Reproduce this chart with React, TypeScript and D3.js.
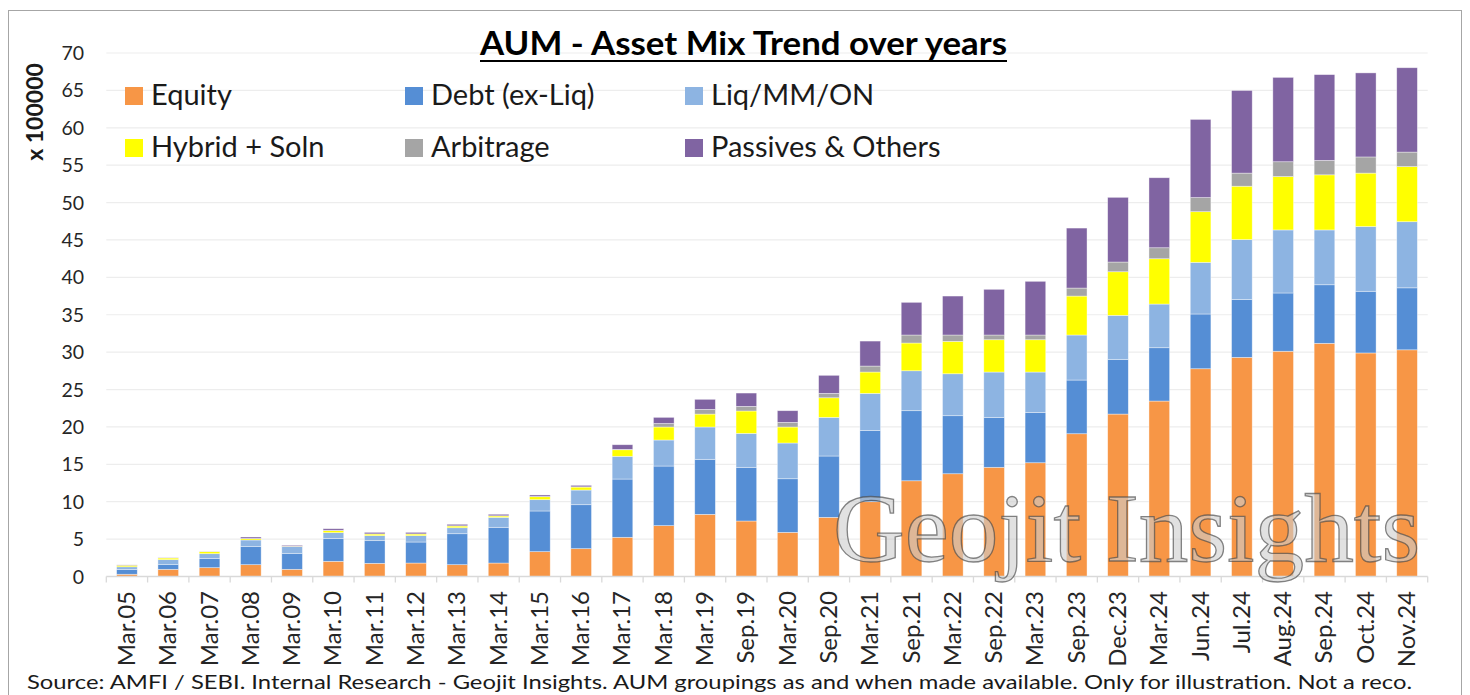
import React, { useEffect, useRef } from "react";
import * as d3 from "d3";

const categories = [
  "Mar.05", "Mar.06", "Mar.07", "Mar.08", "Mar.09", "Mar.10", "Mar.11", "Mar.12",
  "Mar.13", "Mar.14", "Mar.15", "Mar.16", "Mar.17", "Mar.18", "Mar.19", "Sep.19",
  "Mar.20", "Sep.20", "Mar.21", "Sep.21", "Mar.22", "Sep.22", "Mar.23", "Sep.23",
  "Dec.23", "Mar.24", "Jun.24", "Jul.24", "Aug.24", "Sep.24", "Oct.24", "Nov.24",
];

const equity = [
  0.3, 0.96, 1.18, 1.58, 0.96, 2.03, 1.76, 1.8, 1.58, 1.8, 3.32, 3.72, 5.24, 6.8, 8.31, 7.42,
  5.9, 7.91, 10.0, 12.8, 13.74, 14.6, 15.21, 19.09, 21.72, 23.46, 27.78, 29.3, 30.12, 31.18, 29.89, 30.31,
];
const debt = [
  0.65, 0.67, 1.25, 2.41, 2.14, 3.03, 3.03, 2.81, 4.14, 4.78, 5.44, 5.88, 7.79, 7.97, 7.36, 7.18,
  7.17, 8.2, 9.54, 9.37, 7.76, 6.68, 6.74, 7.18, 7.32, 7.13, 7.32, 7.73, 7.79, 7.83, 8.25, 8.29,
];
const liquid = [
  0.35, 0.62, 0.62, 0.89, 0.89, 0.8, 0.67, 0.85, 0.8, 1.33, 1.51, 1.96, 3.04, 3.48, 4.32, 4.54,
  4.78, 5.17, 4.95, 5.34, 5.61, 6.06, 5.39, 6.02, 5.88, 5.84, 6.91, 8.02, 8.43, 7.33, 8.66, 8.84,
];
const hybrid = [
  0.2, 0.22, 0.27, 0.18, 0.05, 0.27, 0.22, 0.22, 0.23, 0.18, 0.4, 0.4, 0.88, 1.74, 1.73, 2.99,
  2.14, 2.62, 2.85, 3.71, 4.33, 4.32, 4.32, 5.21, 5.83, 6.06, 6.77, 7.14, 7.14, 7.37, 7.14, 7.37,
];
const arbitrage = [
  0, 0, 0, 0.02, 0, 0.05, 0.02, 0.02, 0.03, 0.03, 0.03, 0.03, 0.05, 0.47, 0.63, 0.62,
  0.62, 0.59, 0.8, 1.07, 0.85, 0.63, 0.63, 1.07, 1.3, 1.47, 1.89, 1.75, 1.98, 1.93, 2.16, 1.94,
];
const passives = [
  0.05, 0.03, 0.03, 0.2, 0.13, 0.21, 0.2, 0.2, 0.2, 0.2, 0.2, 0.2, 0.62, 0.82, 1.34, 1.78,
  1.56, 2.41, 3.34, 4.37, 5.21, 6.11, 7.18, 8.02, 8.65, 9.36, 10.45, 11.05, 11.28, 11.47, 11.24, 11.28,
];

const seriesNames = ["Equity", "Debt (ex-Liq)", "Liq/MM/ON", "Hybrid + Soln", "Arbitrage", "Passives & Others"];
const seriesColors = ["#F79646", "#558ED5", "#8DB4E2", "#FFFF00", "#A5A5A5", "#8064A2"];
const yTicks = [0, 5, 10, 15, 20, 25, 30, 35, 40, 45, 50, 55, 60, 65, 70];

const titleText = "AUM - Asset Mix Trend over years";
const yAxisTitle = "x 100000";
const sourceText =
  "Source: AMFI / SEBI. Internal Research - Geojit Insights. AUM groupings as and when made available. Only for illustration. Not a reco.";
const watermarkText = "Geojit Insights";

const FONT = "Lato, 'Open Sans', sans-serif";

export default function App() {
  const ref = useRef<SVGSVGElement>(null);

  useEffect(() => {
    const svg = d3.select(ref.current);
    svg.selectAll("*").remove();

    const W = 1470;
    const H = 695;

    svg.append("rect").attr("x", 0).attr("y", 0).attr("width", W).attr("height", H).attr("fill", "#fff");
    svg
      .append("rect")
      .attr("x", 8.5)
      .attr("y", 10.5)
      .attr("width", 1453)
      .attr("height", 700)
      .attr("fill", "none")
      .attr("stroke", "#A6A6A6")
      .attr("stroke-width", 1);

    const x = d3
      .scaleBand<string>()
      .domain(categories)
      .range([106.3, 1427.7])
      .paddingInner(0.5)
      .paddingOuter(0.25);
    const y = d3.scaleLinear().domain([0, 70]).range([576.5, 53]);

    svg
      .append("g")
      .selectAll("line")
      .data(yTicks.filter((t) => t > 0))
      .join("line")
      .attr("x1", 106.3)
      .attr("x2", 1427.7)
      .attr("y1", (d) => y(d))
      .attr("y2", (d) => y(d))
      .attr("stroke", "#EDEDED")
      .attr("stroke-width", 1.2);

    svg
      .append("g")
      .selectAll("text")
      .data(yTicks)
      .join("text")
      .attr("x", 84)
      .attr("y", (d) => y(d))
      .attr("dy", "0.36em")
      .attr("text-anchor", "end")
      .attr("font-family", FONT)
      .attr("font-size", 19.5)
      .attr("fill", "#262626")
      .text((d) => String(d));

    svg
      .append("text")
      .attr("transform", `translate(43,112) rotate(-90)`)
      .attr("text-anchor", "middle")
      .attr("font-family", FONT)
      .attr("font-weight", "bold")
      .attr("font-size", 23)
      .attr("fill", "#1a1a1a")
      .text(yAxisTitle);

    const rows = categories.map((c, i) => ({
      cat: c,
      s0: equity[i],
      s1: debt[i],
      s2: liquid[i],
      s3: hybrid[i],
      s4: arbitrage[i],
      s5: passives[i],
    }));
    const keys = ["s0", "s1", "s2", "s3", "s4", "s5"];
    const stacked = d3.stack<any>().keys(keys)(rows);

    const gBars = svg.append("g");
    stacked.forEach((layer, li) => {
      gBars
        .append("g")
        .attr("fill", seriesColors[li])
        .selectAll("rect")
        .data(layer.filter((d) => d[1] - d[0] > 0))
        .join("rect")
        .attr("x", (d) => x(d.data.cat) as number)
        .attr("width", x.bandwidth())
        .attr("y", (d) => y(d[1]))
        .attr("height", (d) => y(d[0]) - y(d[1]))
        .attr("stroke", "rgba(255,255,255,0.55)")
        .attr("stroke-width", 0.7);
    });

    const gx = svg.append("g");
    gx.append("line")
      .attr("x1", 106.3)
      .attr("x2", 1427.7)
      .attr("y1", y(0))
      .attr("y2", y(0))
      .attr("stroke", "#D9D9D9")
      .attr("stroke-width", 1.3);
    const boundaries = categories.map((c) => (x(c) as number) - (x.step() - x.bandwidth()) / 2);
    boundaries.push(1427.7);
    gx.selectAll("line.tick")
      .data(boundaries)
      .join("line")
      .attr("class", "tick")
      .attr("x1", (d) => d)
      .attr("x2", (d) => d)
      .attr("y1", y(0))
      .attr("y2", y(0) + 6)
      .attr("stroke", "#D9D9D9")
      .attr("stroke-width", 1.3);

    svg
      .append("g")
      .selectAll("text")
      .data(categories)
      .join("text")
      .attr("transform", (d) => `translate(${(x(d) as number) + x.bandwidth() / 2 + 8},591) rotate(-90)`)
      .attr("text-anchor", "end")
      .attr("font-family", FONT)
      .attr("font-size", 24)
      .attr("fill", "#262626")
      .text((d) => d);

    svg
      .append("text")
      .attr("x", 833)
      .attr("y", 561)
      .attr("font-family", "'Liberation Serif', 'DejaVu Serif', serif")
      .attr("font-size", 98)
      .attr("textLength", 587)
      .attr("lengthAdjust", "spacingAndGlyphs")
      .attr("fill", "rgba(205,205,205,0.6)")
      .attr("stroke", "rgba(70,70,70,0.65)")
      .attr("stroke-width", 1.3)
      .text(watermarkText);

    svg
      .append("text")
      .attr("x", 480)
      .attr("y", 55)
      .attr("font-family", FONT)
      .attr("font-weight", "bold")
      .attr("font-size", 33)
      .attr("textLength", 527)
      .attr("lengthAdjust", "spacingAndGlyphs")
      .attr("fill", "#000")
      .text(titleText);
    svg
      .append("line")
      .attr("x1", 480)
      .attr("x2", 1007)
      .attr("y1", 61)
      .attr("y2", 61)
      .attr("stroke", "#000")
      .attr("stroke-width", 2.2);

    const legendCols = [125, 405, 685];
    const legendRows = [87, 139];
    const gl = svg.append("g");
    seriesNames.forEach((name, i) => {
      const cx = legendCols[i % 3];
      const cy = legendRows[Math.floor(i / 3)];
      gl.append("rect")
        .attr("x", cx)
        .attr("y", cy)
        .attr("width", 18)
        .attr("height", 18)
        .attr("fill", seriesColors[i]);
      gl.append("text")
        .attr("x", cx + 26)
        .attr("y", cy + 18)
        .attr("font-family", FONT)
        .attr("font-size", 29)
        .attr("fill", "#1a1a1a")
        .text(name);
    });

    svg
      .append("text")
      .attr("x", 27)
      .attr("y", 689)
      .attr("font-family", FONT)
      .attr("font-size", 20)
      .attr("textLength", 1385)
      .attr("lengthAdjust", "spacingAndGlyphs")
      .attr("fill", "#1a1a1a")
      .text(sourceText);
  }, []);

  return (
    <svg
      ref={ref}
      width={1470}
      height={695}
      style={{ position: "absolute", left: 0, top: 0, display: "block" }}
    />
  );
}
